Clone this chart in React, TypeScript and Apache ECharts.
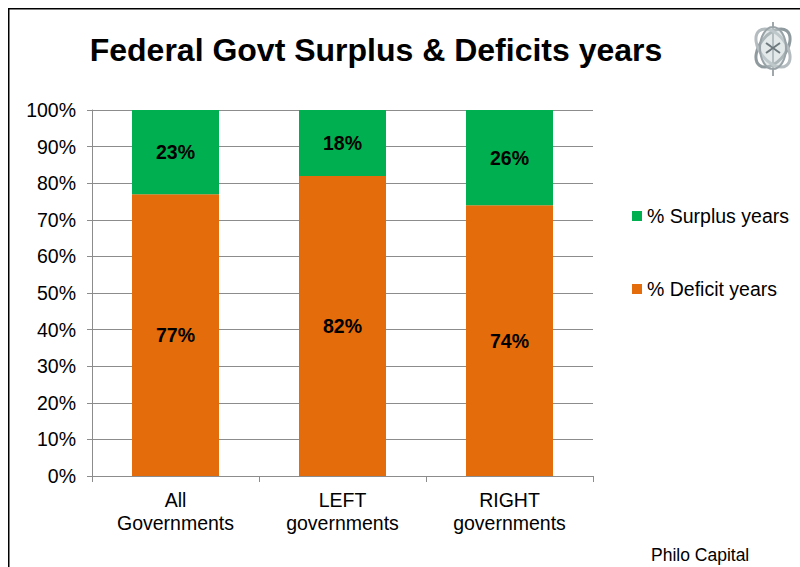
import React, { useEffect, useRef } from "react";
import * as echarts from "echarts";

const categories = ["All\nGovernments", "LEFT\ngovernments", "RIGHT\ngovernments"];
const deficitValues = [77, 82, 74];
const surplusValues = [23, 18, 26];
const yTicks = [0, 10, 20, 30, 40, 50, 60, 70, 80, 90, 100];

const FONT = "'Liberation Sans', Arial, sans-serif";

export default function App() {
  const ref = useRef<HTMLDivElement>(null);
  useEffect(() => {
    if (!ref.current) return;
    const chart = echarts.init(ref.current, undefined, { renderer: "svg" });
    const labelStyle = {
      show: true,
      position: "inside",
      formatter: "{c}%",
      color: "#000",
      fontWeight: "bold",
      fontSize: 19.5,
      fontFamily: FONT,
    };
    const legendText = { fontSize: 19.5, color: "#000", fontFamily: FONT };
    chart.setOption({
      animation: false,
      backgroundColor: "#fff",
      textStyle: { fontFamily: FONT },
      legend: [
        {
          data: ["% Surplus years"],
          left: 624,
          top: 198,
          padding: 0,
          itemWidth: 10,
          itemHeight: 10,
          itemGap: 5,
          icon: "rect",
          textStyle: legendText,
        },
        {
          data: ["% Deficit years"],
          left: 624,
          top: 271,
          padding: 0,
          itemWidth: 10,
          itemHeight: 10,
          icon: "rect",
          textStyle: legendText,
        },
      ],
      grid: { left: 84, top: 102, right: 215, bottom: 99, containLabel: false },
      xAxis: {
        type: "category",
        data: categories,
        boundaryGap: true,
        axisLine: { show: true, lineStyle: { color: "#8c8c8c", width: 1 } },
        axisTick: { show: true, length: 6, interval: 0, alignWithLabel: false, lineStyle: { color: "#8c8c8c" } },
        axisLabel: { color: "#000", fontSize: 19.5, lineHeight: 23, margin: 12, interval: 0, fontFamily: FONT },
      },
      yAxis: {
        type: "value",
        min: 0,
        max: 100,
        interval: 10,
        axisLine: { show: true, lineStyle: { color: "#8c8c8c", width: 1 } },
        axisTick: { show: true, length: 5, lineStyle: { color: "#8c8c8c" } },
        splitLine: { show: true, lineStyle: { color: "#8c8c8c", width: 1 } },
        axisLabel: {
          color: "#000",
          fontSize: 19.5,
          margin: 16,
          fontFamily: FONT,
          formatter: (v: number) => (yTicks.includes(v) ? v + "%" : ""),
        },
      },
      series: [
        {
          name: "% Deficit years",
          type: "bar",
          stack: "total",
          data: deficitValues,
          barWidth: 87,
          itemStyle: { color: "#E46C0A" },
          label: labelStyle,
        },
        {
          name: "% Surplus years",
          type: "bar",
          stack: "total",
          data: surplusValues,
          barWidth: 87,
          itemStyle: { color: "#00B050" },
          label: labelStyle,
        },
      ],
      graphic: [
        {
          type: "line",
          shape: { x1: 0.75, y1: 0.75, x2: 0.75, y2: 600 },
          style: { stroke: "#000", lineWidth: 1.5 },
        },
        {
          type: "line",
          shape: { x1: 0, y1: 0.75, x2: 800, y2: 0.75 },
          style: { stroke: "#000", lineWidth: 1.5 },
        },
        {
          type: "text",
          x: 368,
          y: 42,
          style: {
            text: "Federal Govt Surplus & Deficits years",
            fontSize: 32,
            fontWeight: "bold",
            fill: "#000",
            fontFamily: FONT,
            textAlign: "center",
            textVerticalAlign: "middle",
          },
        },
        {
          type: "text",
          x: 643,
          y: 547,
          style: { text: "Philo Capital", fontSize: 17.5, fill: "#000", fontFamily: FONT, textVerticalAlign: "middle" },
        },
        {
          type: "group",
          x: 765,
          y: 40,
          children: [
            { type: "line", shape: { x1: 0, y1: -26, x2: 0, y2: 28 }, style: { stroke: "#a0a8ac", lineWidth: 2 } },
            { type: "ellipse", shape: { cx: 0, cy: 0, rx: 22, ry: 13 }, rotation: 0.9, style: { fill: "none", stroke: "#8f9a9e", lineWidth: 3 } },
            { type: "ellipse", shape: { cx: 0, cy: 0, rx: 22, ry: 13 }, rotation: -0.9, style: { fill: "none", stroke: "#b4bcc0", lineWidth: 3 } },
            { type: "ellipse", shape: { cx: 0, cy: 0, rx: 13, ry: 21 }, style: { fill: "rgba(200,210,212,0.5)", stroke: "#9aa4a8", lineWidth: 2 } },
            { type: "line", shape: { x1: -7, y1: -5, x2: 7, y2: 5 }, style: { stroke: "#6f7a7e", lineWidth: 2 } },
            { type: "line", shape: { x1: -7, y1: 5, x2: 7, y2: -5 }, style: { stroke: "#6f7a7e", lineWidth: 2 } },
          ],
        },
      ],
    });
    return () => chart.dispose();
  }, []);
  return <div ref={ref} style={{ position: "fixed", left: 8, top: 8, width: 800, height: 567 }} />;
}
